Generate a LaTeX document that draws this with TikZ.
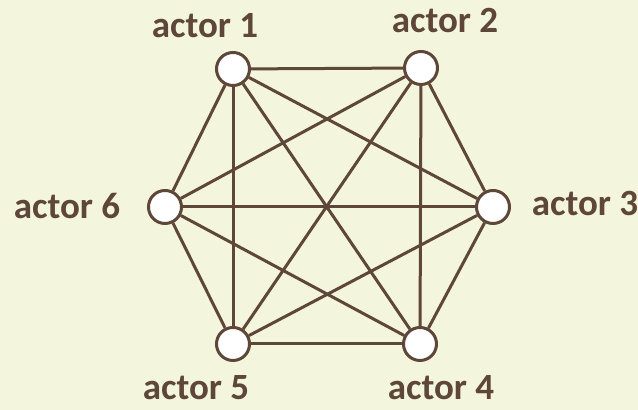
\documentclass[tikz,border=0pt]{standalone}
\usepackage{fontspec}
\setmainfont{Carlito}
\usepackage{tikz}

\definecolor{bgcream}{HTML}{F3F6DC}
\definecolor{linkbrown}{HTML}{5E4638}

\tikzset{
    actor/.style={circle, draw=linkbrown, line width=1.5pt, fill=white, minimum size=16.5pt, inner sep=0pt},
    link/.style={draw=linkbrown, line width=1.5pt},
    actorlabel/.style={anchor=base, inner sep=0pt, text depth=0pt, text=linkbrown, font=\fontsize{18.5}{20}\selectfont\bfseries}
}

\begin{document}
\begin{tikzpicture}[x=0.5pt, y=0.5pt]

    % Background
    \fill[bgcream] (0,0) rectangle (638,410);
    \useasboundingbox (0,0) rectangle (638,410);

    % Actors
    \node[actor] (a1) at (233,341) {};
    \node[actor] (a2) at (421,342) {};
    \node[actor] (a3) at (493,203) {};
    \node[actor] (a4) at (420,66) {};
    \node[actor] (a5) at (233,66) {};
    \node[actor] (a6) at (165,203) {};

    % Labels
    \node[actorlabel] (l1) at (205,372) {actor 1};
    \node[actorlabel] (l2) at (445,377) {actor 2};
    \node[actorlabel] (l3) at (585,194) {actor 3};
    \node[actorlabel] (l4) at (441,10) {actor 4};
    \node[actorlabel] (l5) at (196,10) {actor 5};
    \node[actorlabel] (l6) at (67,191) {actor 6};

    % Every actor linked to every other
    \foreach \i in {1,...,5} {
        \pgfmathtruncatemacro{\next}{\i+1}
        \foreach \j in {\next,...,6} {
            \draw[link] (a\i) -- (a\j);
        }
    }

\end{tikzpicture}
\end{document}
